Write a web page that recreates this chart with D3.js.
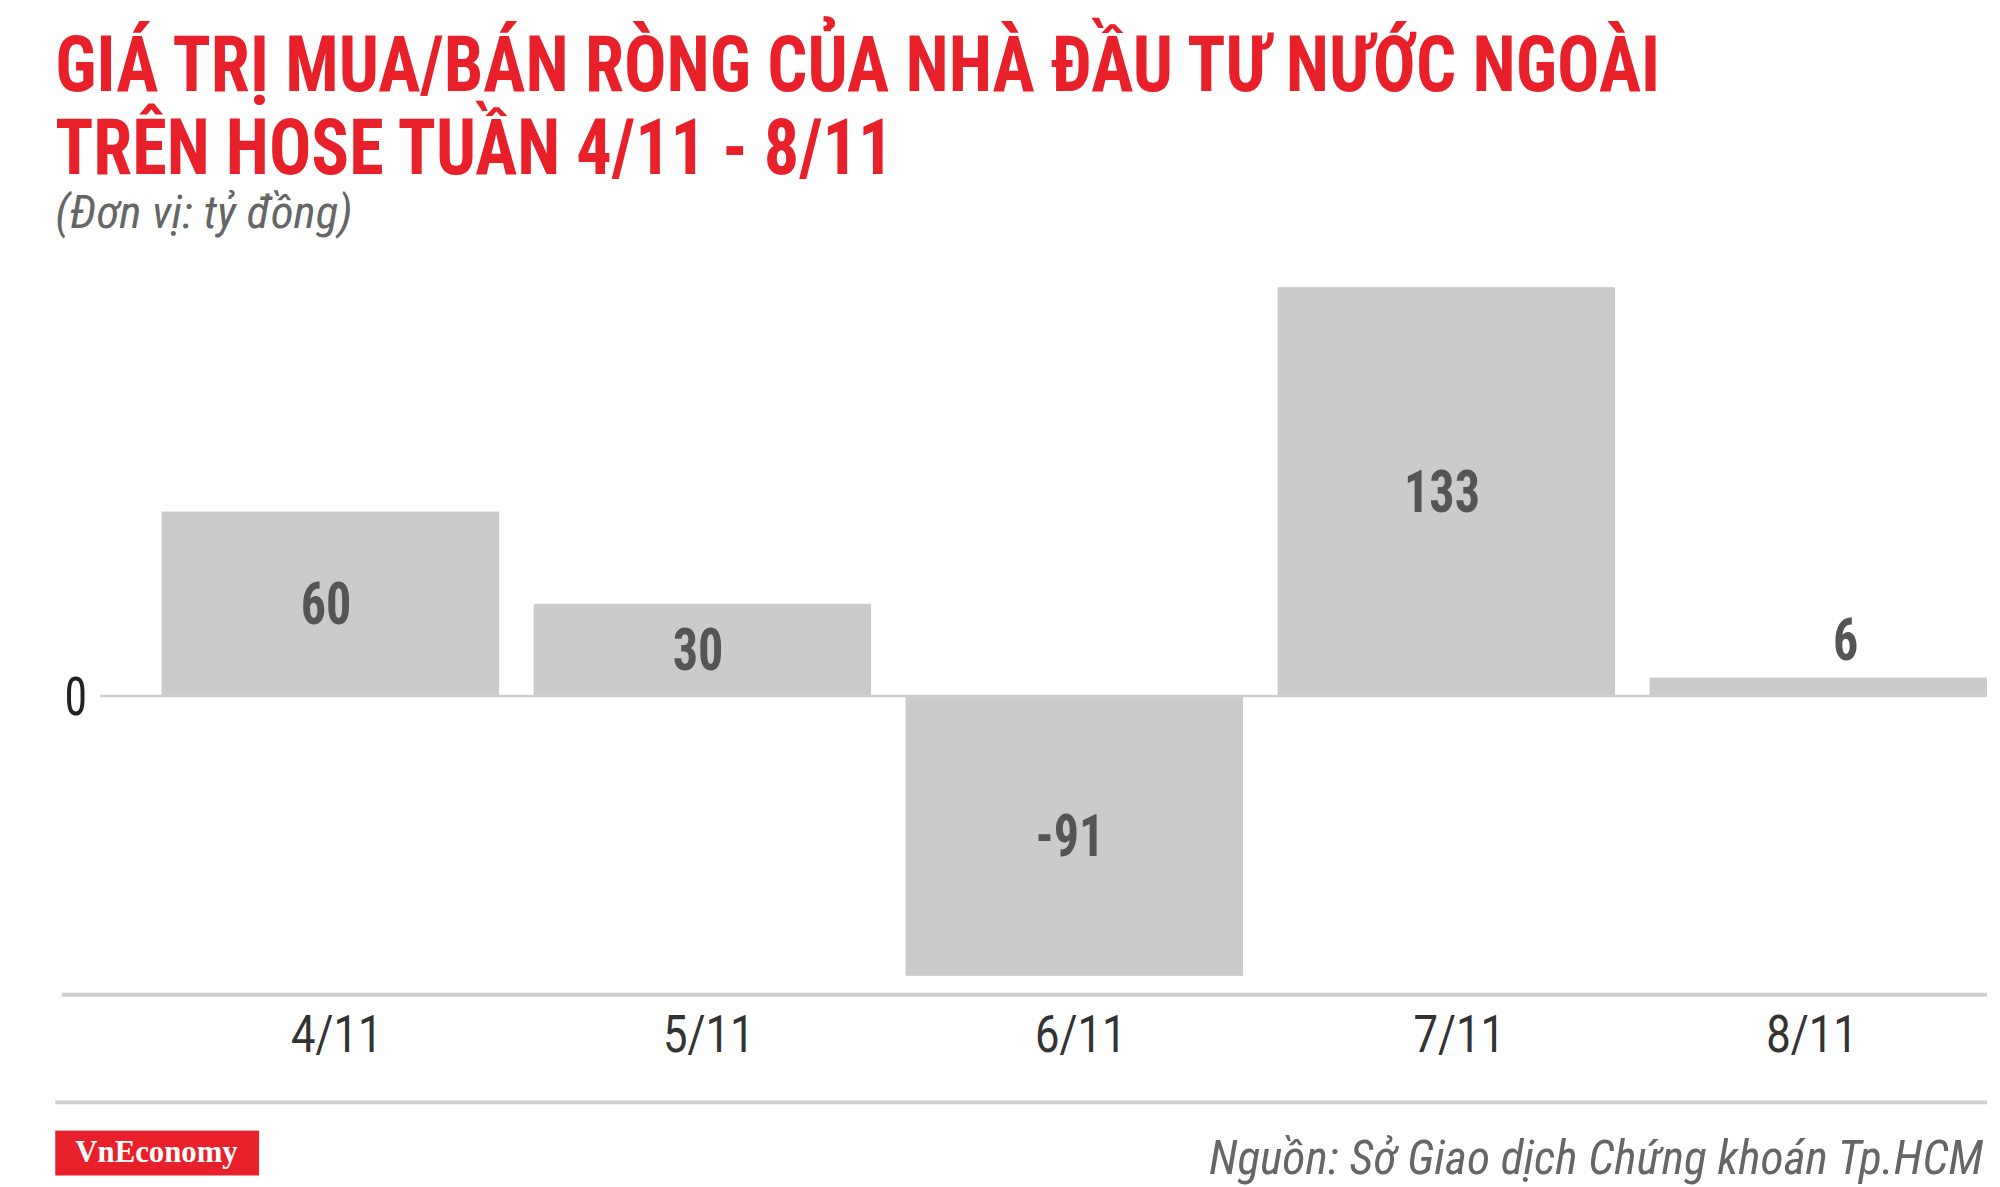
<!DOCTYPE html>
<html><head><meta charset="utf-8">
<script src="https://cdn.jsdelivr.net/npm/d3@7"></script>
<style>
body{margin:0;background:#fff;}
text{font-family:"Roboto Condensed",Roboto,sans-serif;}
</style></head>
<body>
<svg id="chart" width="2000" height="1187" viewBox="0 0 1560 926"></svg>
<script>
var days = ["4/11", "5/11", "6/11", "7/11", "8/11"];
var values = [60, 30, -91, 133, 6];

var svg = d3.select("#chart");

// title, squeezed to the condensed width of the original
svg.append("text").attr("x", 43).attr("y", 71)
  .attr("font-size", 60).attr("font-weight", "bold").attr("fill", "#e8202a")
  .attr("textLength", 1252).attr("lengthAdjust", "spacingAndGlyphs")
  .text("GIÁ TRỊ MUA/BÁN RÒNG CỦA NHÀ ĐẦU TƯ NƯỚC NGOÀI");
svg.append("text").attr("x", 43).attr("y", 136)
  .attr("font-size", 60).attr("font-weight", "bold").attr("fill", "#e8202a")
  .attr("textLength", 654).attr("lengthAdjust", "spacingAndGlyphs")
  .text("TRÊN HOSE TUẦN 4/11 - 8/11");
svg.append("text").attr("x", 43).attr("y", 178)
  .attr("font-size", 36).attr("font-style", "italic").attr("fill", "#666")
  .attr("textLength", 232).attr("lengthAdjust", "spacingAndGlyphs")
  .text("(Đơn vị: tỷ đồng)");

var x = d3.scaleBand().domain(days).range([126, 1550]).paddingInner(0.093).paddingOuter(0);
var y = d3.scaleLinear().domain([0, 133]).range([543, 224]);

svg.selectAll("rect.bar").data(values).enter().append("rect")
  .attr("class", "bar")
  .attr("x", function(d, i){ return x(days[i]); })
  .attr("width", x.bandwidth())
  .attr("y", function(d){ return Math.min(y(d), y(0)); })
  .attr("height", function(d){ return Math.abs(y(d) - y(0)); })
  .attr("fill", "#cccbcb");

// zero line
svg.append("line").attr("x1", 78).attr("x2", 1550).attr("y1", y(0)).attr("y2", y(0))
  .attr("stroke", "#cfcfcf").attr("stroke-width", 2);
svg.append("text").attr("x", 59).attr("y", y(0)).attr("dy", "0.36em")
  .attr("text-anchor", "middle").attr("font-size", 42).attr("fill", "#222")
  .attr("transform", "translate(59,0) scale(0.85,1) translate(-59,0)").text("0");

// value labels
svg.selectAll("text.val").data(values).enter().append("text")
  .attr("class", "val")
  .attr("x", function(d, i){ return x(days[i]) + x.bandwidth() / 2 + (Math.abs(d) < 15 ? 25 : -4); })
  .attr("y", function(d){
    if (Math.abs(d) < 15) return y(d) - 30;
    return (y(d) + y(0)) / 2 - 1;
  })
  .attr("dy", "0.36em").attr("text-anchor", "middle")
  .attr("font-size", 46).attr("font-weight", "bold").attr("fill", "#555")
  .attr("transform", function(d, i){ var cx = x(days[i]) + x.bandwidth() / 2; return "translate(" + cx + ",0) scale(0.85,1) translate(" + (-cx) + ",0)"; })
  .text(function(d){ return d; });

// bottom axis
var axis = svg.append("g").attr("transform", "translate(0,776)")
  .call(d3.axisBottom(x).tickSize(0).tickPadding(16));
axis.select(".domain").remove();
axis.append("line").attr("x1", 48).attr("x2", 1550).attr("stroke", "#cfcfcf").attr("stroke-width", 3);
axis.selectAll(".tick text").attr("font-size", 40).attr("fill", "#333")
  .style("font-family", "Roboto, sans-serif")
  .attr("transform", function(d, i){ return "translate(" + [5, 5, 5, 10, -5][i] + ",0) scale(0.85,1)"; });

// footer
svg.append("line").attr("x1", 43).attr("x2", 1550).attr("y1", 860).attr("y2", 860)
  .attr("stroke", "#cfcfcf").attr("stroke-width", 3);
svg.append("rect").attr("x", 43).attr("y", 882).attr("width", 159).attr("height", 35).attr("fill", "#e8202a");
svg.append("text").attr("x", 122).attr("y", 898).attr("dy", "0.35em").attr("text-anchor", "middle")
  .style("font-family", "'Liberation Serif', serif").attr("font-weight", "bold")
  .attr("font-size", 24).attr("fill", "#fff").text("VnEconomy");
svg.append("text").attr("x", 943).attr("y", 902).attr("dy", "0.36em")
  .attr("font-size", 38).attr("font-style", "italic").attr("fill", "#666")
  .attr("textLength", 604).attr("lengthAdjust", "spacingAndGlyphs")
  .text("Nguồn: Sở Giao dịch Chứng khoán Tp.HCM");
</script>
</body></html>
